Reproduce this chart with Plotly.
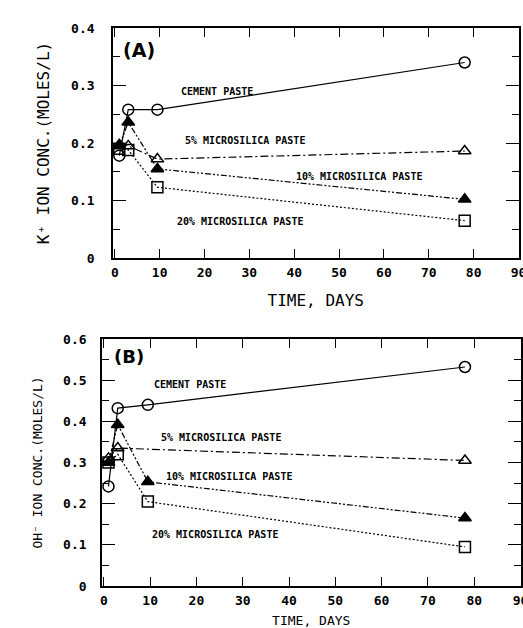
import plotly.graph_objects as go
from plotly.subplots import make_subplots

# ---- data: panel A (K+ ion concentration) ----
days_a = [1, 3, 9.5, 78]
k_cement = [0.178, 0.258, 0.258, 0.340]
k_ms5 = [0.197, 0.195, 0.172, 0.186]
k_ms10 = [0.195, 0.236, 0.155, 0.102]
k_ms20 = [0.190, 0.188, 0.123, 0.065]

# ---- data: panel B (OH- ion concentration) ----
days_b = [1, 3, 9.5, 78]
days_b5 = [1, 3, 78]
oh_cement = [0.242, 0.432, 0.440, 0.532]
oh_ms5 = [0.310, 0.335, 0.305]
oh_ms10 = [0.300, 0.392, 0.253, 0.165]
oh_ms20 = [0.300, 0.320, 0.205, 0.095]

series_names = ["CEMENT PASTE", "5% MICROSILICA PASTE", "10% MICROSILICA PASTE", "20% MICROSILICA PASTE"]
x_ticks = [0, 10, 20, 30, 40, 50, 60, 70, 80, 90]

FONT = "DejaVu Sans Mono"
styles = [
    dict(symbol="circle-open", dash="solid"),
    dict(symbol="triangle-up-open", dash="8px,3px,2px,3px"),
    dict(symbol="triangle-up", dash="6px,2px,2px,2px,2px,2px"),
    dict(symbol="square-open", dash="2px,2px"),
]

fig = make_subplots(rows=2, cols=1)

def add(x, y, st, row):
    fig.add_trace(go.Scatter(
        x=x, y=y, mode="lines+markers", showlegend=False,
        line=dict(color="black", width=1.2, dash=st["dash"]),
        marker=dict(symbol=st["symbol"], size=11, color="black",
                    line=dict(color="black", width=1.5)),
    ), row=row, col=1)

for xs, ys, st in [(days_a, k_cement, styles[0]), (days_a, k_ms5, styles[1]),
                   (days_a, k_ms10, styles[2]), (days_a, k_ms20, styles[3])]:
    add(xs, ys, st, 1)
for xs, ys, st in [(days_b, oh_cement, styles[0]), (days_b5, oh_ms5, styles[1]),
                   (days_b, oh_ms10, styles[2]), (days_b, oh_ms20, styles[3])]:
    add(xs, ys, st, 2)

axis_common = dict(showline=True, linecolor="black", linewidth=1.6, mirror="allticks",
                   ticks="inside", tickcolor="black", showgrid=False, zeroline=False,
                   automargin=False, ticklabeloverflow="allow",
                   tickfont=dict(family=FONT, size=13, color="black", weight="bold"))

fig.update_xaxes(**axis_common, range=[-0.4, 90], tickvals=x_ticks, ticklen=9, tickwidth=1.4,
                 ticklabelstandoff=2)
fig.update_yaxes(**axis_common, ticklen=13, tickwidth=1.4, ticklabelstandoff=14,
                 minor=dict(ticks="inside", ticklen=7, tickcolor="black", dtick=0.05, showgrid=False))

fig.update_xaxes(domain=[113 / 523, 518.5 / 523], row=1, col=1)
fig.update_xaxes(domain=[102 / 523, 520.5 / 523], row=2, col=1)
fig.update_yaxes(domain=[(628 - 258) / 628, (628 - 28) / 628], range=[0, 0.4], dtick=0.1, row=1, col=1)
fig.update_yaxes(domain=[(628 - 586) / 628, (628 - 339) / 628], range=[0, 0.6], dtick=0.1,
                 ticklabelstandoff=11, row=2, col=1)

fig.update_xaxes(title=dict(text="TIME, DAYS", font=dict(family=FONT, size=16, color="black"), standoff=15),
                 row=1, col=1)
fig.update_xaxes(title=dict(text="TIME, DAYS", font=dict(family=FONT, size=13, color="black"), standoff=8),
                 row=2, col=1)
fig.update_yaxes(title=dict(text="K⁺ ION CONC.(MOLES/L)", font=dict(family=FONT, size=16, color="black"),
                            standoff=18), row=1, col=1)
fig.update_yaxes(title=dict(text="OH⁻ ION CONC.(MOLES/L)", font=dict(family=FONT, size=13, color="black"),
                            standoff=18), row=2, col=1)

lab_font = dict(family=FONT, size=10, color="black")
ann_a = [(22.7, 0.29, series_names[0]), (29, 0.205, series_names[1]),
         (54.5, 0.142, series_names[2]), (28, 0.063, series_names[3])]
ann_b = [(18.7, 0.49, series_names[0]), (25.4, 0.36, series_names[1]),
         (27, 0.267, series_names[2]), (24, 0.124, series_names[3])]
for x, y, t in ann_a:
    fig.add_annotation(x=x, y=y, text="<b>" + t + "</b>", showarrow=False, font=lab_font, xref="x", yref="y")
for x, y, t in ann_b:
    fig.add_annotation(x=x, y=y, text="<b>" + t + "</b>", showarrow=False, font=lab_font, xref="x2", yref="y2")
fig.add_annotation(x=5.5, y=0.362, text="<b>(A)</b>", showarrow=False,
                   font=dict(family="DejaVu Sans", size=19, color="black"), xref="x", yref="y")
fig.add_annotation(x=5.4, y=0.557, text="<b>(B)</b>", showarrow=False,
                   font=dict(family="DejaVu Sans", size=18, color="black"), xref="x2", yref="y2")

fig.update_layout(width=523, height=628, margin=dict(l=0, r=0, t=0, b=0),
                  plot_bgcolor="white", paper_bgcolor="white",
                  font=dict(family=FONT, color="black"))

fig.write_html("out.html", config={"displayModeBar": False},
               post_script="document.body.style.margin='0';document.body.style.overflow='hidden';")
